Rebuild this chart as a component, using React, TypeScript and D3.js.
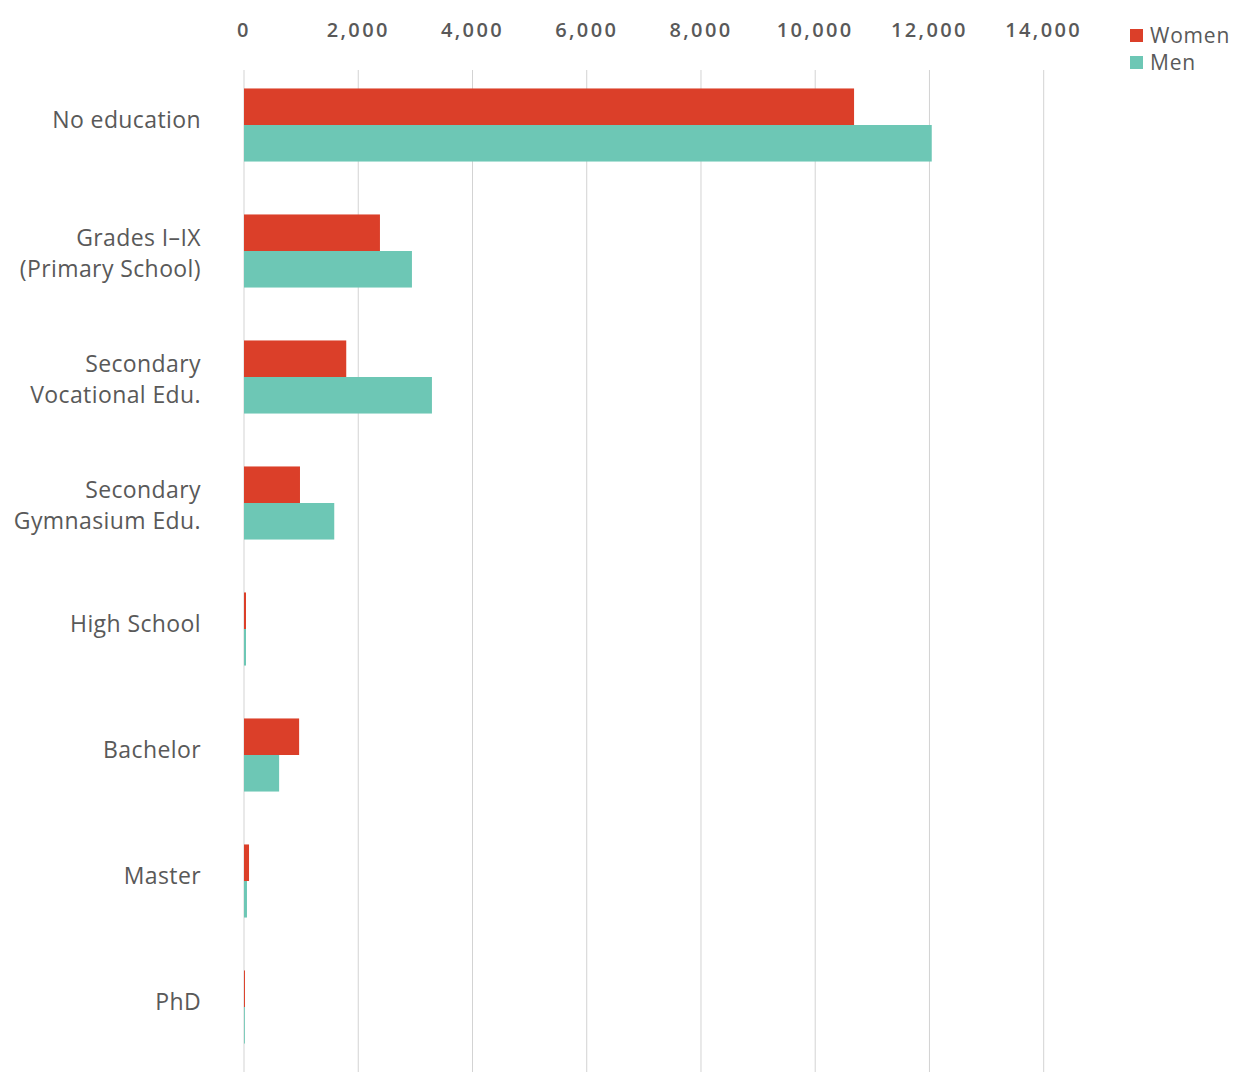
import React from "react";
import * as d3 from "d3";

const categories = [
  ["No education"],
  ["Grades I–IX", "(Primary School)"],
  ["Secondary", "Vocational Edu."],
  ["Secondary", "Gymnasium Edu."],
  ["High School"],
  ["Bachelor"],
  ["Master"],
  ["PhD"],
];
const women = [10680, 2380, 1790, 980, 35, 965, 88, 17];
const men = [12040, 2940, 3290, 1580, 35, 615, 52, 15];
const ticks = [0, 2000, 4000, 6000, 8000, 10000, 12000, 14000];
const seriesNames = ["Women", "Men"];
const colors = ["#DB3F29", "#6DC7B5"];

export default function App() {
  const W = 1240, H = 1072;
  const x = d3.scaleLinear().domain([0, 14000]).range([244, 1043.7]);
  const keys = categories.map((c) => c.join(" "));
  const y = d3.scaleBand().domain(keys).range([62, 1070]).paddingInner(0.42).paddingOuter(0.21);
  const sub = d3.scaleBand().domain(seriesNames).range([0, y.bandwidth()]);
  const fmt = d3.format(",");
  const font = "'Open Sans', sans-serif";
  return (
    <svg width={W} height={H} style={{ position: "absolute", left: 0, top: 0 }}>
      <rect width={W} height={H} fill="#fff" />
      {ticks.map((t) => (
        <g key={t}>
          <line x1={x(t)} x2={x(t)} y1={70} y2={H} stroke="#d3d3d3" strokeWidth={1} />
          <text x={x(t)} y={37} textAnchor="middle" fontFamily={font} fontSize={20} fontWeight={600} letterSpacing={2.4} fill="#595959">
            {fmt(t)}
          </text>
        </g>
      ))}
      {categories.map((c, i) => {
        const k = keys[i];
        const y0 = y(k)!;
        const cy = y0 + y.bandwidth() / 2;
        const lh = 31;
        const shift = c.length > 1 ? 6 : -1;
        return (
          <g key={k}>
            <rect x={x(0)} y={y0 + sub("Women")!} width={x(women[i]) - x(0)} height={sub.bandwidth()} fill={colors[0]} />
            <rect x={x(0)} y={y0 + sub("Men")!} width={x(men[i]) - x(0)} height={sub.bandwidth()} fill={colors[1]} />
            {c.map((line, j) => (
              <text key={j} x={201} y={cy - 4 + shift + (j - (c.length - 1) / 2) * lh + 8} textAnchor="end" fontFamily={font} fontSize={23} letterSpacing={0.4} fill="#595959">
                {line}
              </text>
            ))}
          </g>
        );
      })}
      {seriesNames.map((s, i) => (
        <g key={s}>
          <rect x={1130} y={29 + i * 27} width={13} height={13} fill={colors[i]} />
          <text x={1150} y={43 + i * 27} fontFamily={font} fontSize={21} letterSpacing={0.8} fill="#595959">{s}</text>
        </g>
      ))}
    </svg>
  );
}
